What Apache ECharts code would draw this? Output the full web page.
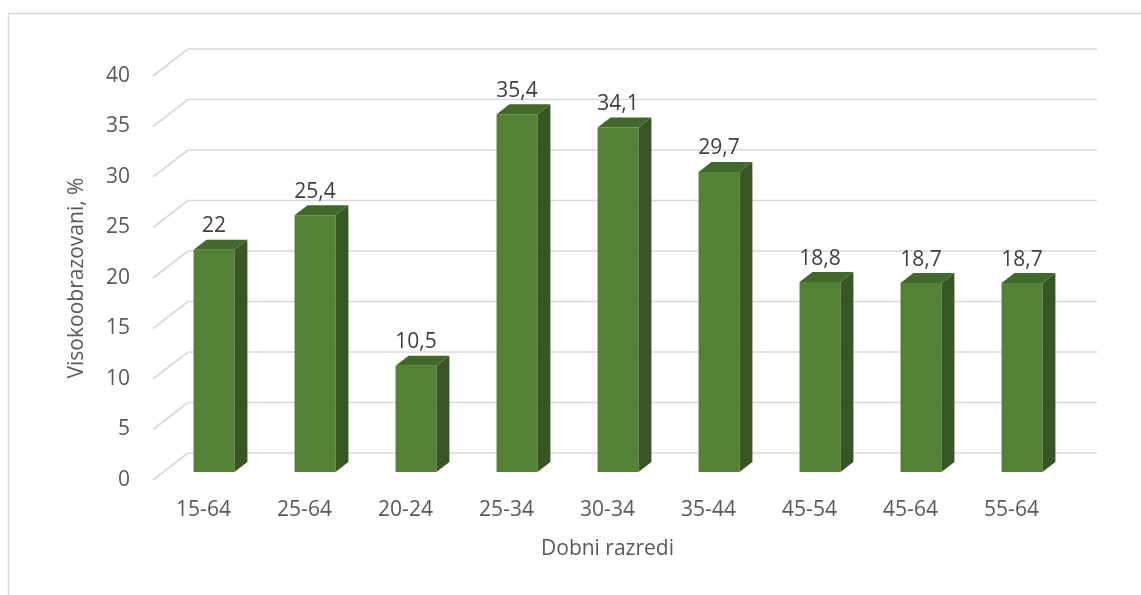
<!DOCTYPE html>
<html>
<head>
<meta charset="utf-8">
<script src="https://cdn.jsdelivr.net/npm/echarts@6/dist/echarts.min.js"></script>
<style>
  html, body { margin: 0; padding: 0; background: #fff; }
  #chart { width: 1141px; height: 595px; }
</style>
</head>
<body>
<div id="chart"></div>
<script>
// Age groups and share of highly educated (%)
const categories = ['15-64', '25-64', '20-24', '25-34', '30-34', '35-44', '45-54', '45-64', '55-64'];
const values = [22, 25.4, 10.5, 35.4, 34.1, 29.7, 18.8, 18.7, 18.7];
const yTicks = [0, 5, 10, 15, 20, 25, 30, 35, 40];

// Perspective of the 3D floor: full depth offset in pixels
const DEPTH_X = 35;
const DEPTH_Y = 27;
// Bars sit in the middle of the floor depth
const BAR_FRONT = 0.3;
const BAR_DEPTH = 0.37;

const FONT = 'Open Sans';
const FS = 21;

const fmt = v => String(v).replace('.', ',');

const chart = echarts.init(document.getElementById('chart'));

function renderGrid(params, api) {
  const v = api.value(1);
  const cs = params.coordSys;
  const p = api.coord([0, v]);
  const y = p[1];
  const x0 = cs.x;
  const x1 = cs.x + cs.width + DEPTH_X;
  const style = { stroke: '#d9d9d9', lineWidth: 1.6, fill: null };
  return {
    type: 'group',
    children: [
      { type: 'line', shape: { x1: x0, y1: y, x2: x0 + DEPTH_X, y2: y - DEPTH_Y }, style },
      { type: 'line', shape: { x1: x0 + DEPTH_X, y1: y - DEPTH_Y, x2: x1, y2: y - DEPTH_Y }, style }
    ]
  };
}

function renderBar(params, api) {
  const i = api.value(0);
  const v = api.value(1);
  const top = api.coord([i, v]);
  const base = api.coord([i, 0]);
  const w = api.size([1, 0])[0] * 0.405;
  const fx = BAR_FRONT * DEPTH_X, fy = BAR_FRONT * DEPTH_Y;
  const dx = BAR_DEPTH * DEPTH_X, dy = BAR_DEPTH * DEPTH_Y;
  const cx = top[0] + fx;
  const xl = cx - w / 2, xr = cx + w / 2;
  const yt = top[1] - fy, yb = base[1] - fy;
  return {
    type: 'group',
    children: [
      { type: 'rect', shape: { x: xl, y: yt, width: w, height: yb - yt }, style: { fill: '#548235' } },
      { type: 'polygon', shape: { points: [[xr, yt], [xr + dx, yt - dy], [xr + dx, yb - dy], [xr, yb]] }, style: { fill: '#375623' } },
      { type: 'polygon', shape: { points: [[xl, yt], [xl + dx, yt - dy], [xr + dx, yt - dy], [xr, yt]] }, style: { fill: '#41692a' } },
      { type: 'text', style: { x: cx, y: yt - dy - 3, text: fmt(v), fill: '#404040', font: FS + 'px "' + FONT + '"', align: 'center', verticalAlign: 'bottom' } }
    ]
  };
}

chart.setOption({
  backgroundColor: '#fff',
  animation: false,
  graphic: [{
    type: 'rect', silent: true, z: -10,
    shape: { x: 8.5, y: 13.5, width: 1200, height: 700 },
    style: { fill: null, stroke: '#d9d9d9', lineWidth: 1.5 }
  }],
  grid: { left: 153, right: 79, top: 76, bottom: 115 },
  xAxis: {
    type: 'category',
    data: categories,
    axisLine: { show: false },
    axisTick: { show: false },
    axisLabel: { color: '#595959', fontSize: FS, fontFamily: FONT, margin: 20 },
    name: 'Dobni razredi',
    nameLocation: 'middle',
    nameGap: 59,
    nameTextStyle: { color: '#595959', fontSize: FS, fontFamily: FONT }
  },
  yAxis: {
    type: 'value',
    min: 0, max: 40, interval: 5,
    axisLine: { show: false },
    axisTick: { show: false },
    splitLine: { show: false },
    axisLabel: { color: '#595959', fontSize: FS, fontFamily: FONT, margin: 23 },
    name: 'Visokoobrazovani, %',
    nameLocation: 'middle',
    nameGap: 65,
    nameTextStyle: { color: '#595959', fontSize: FS, fontFamily: FONT }
  },
  series: [
    {
      type: 'custom',
      renderItem: renderGrid,
      data: yTicks.map(t => [0, t]),
      silent: true,
      z: 1
    },
    {
      type: 'custom',
      renderItem: renderBar,
      data: values.map((v, i) => [i, v]),
      z: 2
    }
  ]
});
</script>
</body>
</html>
